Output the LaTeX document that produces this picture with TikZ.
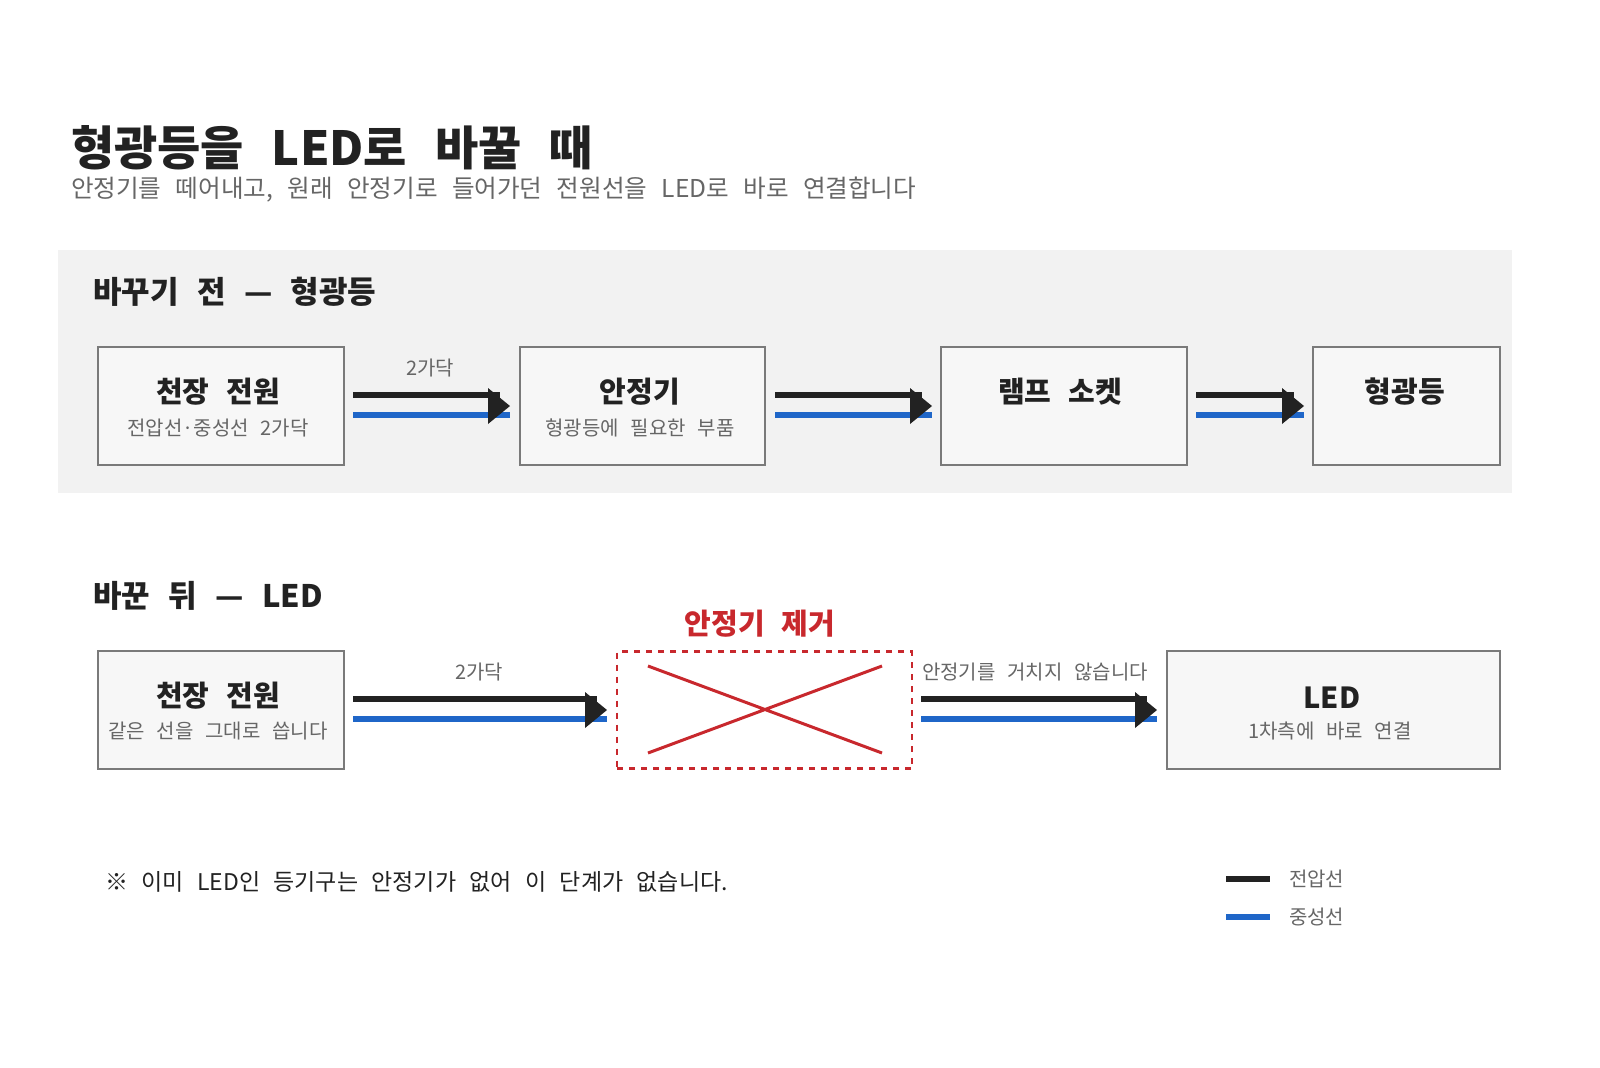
\documentclass[tikz,border=0pt]{standalone}
\usepackage{fontspec}
\setmainfont[WordSpace=2.6]{Noto Sans CJK KR}
\usetikzlibrary{calc}
\definecolor{panel}{HTML}{F2F2F2}
\definecolor{boxf}{HTML}{F7F7F7}
\definecolor{boxd}{HTML}{7A7A7A}
\definecolor{ink}{HTML}{222222}
\definecolor{sub}{HTML}{666666}
\definecolor{blu}{HTML}{1F66C8}
\definecolor{red}{HTML}{C8282D}
\tikzset{
 box/.style={draw=boxd,fill=boxf,line width=1pt,minimum height=59pt,inner sep=0pt},
 ttl/.style={font=\fontsize{14.5}{16}\selectfont\bfseries,text=ink},
 sbt/.style={font=\fontsize{10}{12}\selectfont,text=sub},
 wv/.style={line width=2.6pt,ink},
 wn/.style={line width=2.6pt,blu},
 lbl/.style={font=\fontsize{10}{12}\selectfont,text=sub},
}
\newcommand{\wirepair}[2]{%
 \draw[wv] ($(#1)+(0,-11)$) -- ($(#2)+(-10,-11)$);
 \draw[wn] ($(#1)+(0,9)$) -- ($(#2)+(0,9)$);
 \fill[ink] ($(#2)+(-22,-18)$) -- ($(#2)+(-22,18)$) -- (#2) -- cycle;}
\begin{document}
\begin{tikzpicture}[x=0.5pt,y=-0.5pt]
\useasboundingbox (0,0) rectangle (1600,1067);
\node[anchor=west,font=\fontsize{23.5}{26}\selectfont\bfseries,text=ink] (title) at (64,148) {형광등을 LED로 바꿀 때};
\node[anchor=west,font=\fontsize{12.3}{14}\selectfont,text=sub] (subt) at (64,190) {안정기를 떼어내고, 원래 안정기로 들어가던 전원선을 LED로 바로 연결합니다};
\fill[panel] (58,250) rectangle (1512,493);
\node[anchor=west,font=\fontsize{15.5}{18}\selectfont\bfseries,text=ink] (h1) at (86,292) {바꾸기 전 — 형광등};
% top row
\node[box,minimum width=123pt] (a1) at (221,406) {};
\node[ttl] at (218,392) {천장 전원};
\node[sbt] at (218,428) {전압선·중성선 2가닥};
\node[box,minimum width=122.5pt] (a2) at (642.5,406) {};
\node[ttl] at (640,392) {안정기};
\node[sbt] at (640,428) {형광등에 필요한 부품};
\node[box,minimum width=123pt] (a3) at (1064,406) {};
\node[ttl] at (1060,392) {램프 소켓};
\node[box,minimum width=93.5pt] (a4) at (1406.5,406) {};
\node[ttl] at (1405,392) {형광등};
\coordinate (s1) at (353,406); \coordinate (e1) at (510,406);
\coordinate (s2) at (775,406); \coordinate (e2) at (932,406);
\coordinate (s3) at (1196,406); \coordinate (e3) at (1304,406);
\wirepair{s1}{e1}\wirepair{s2}{e2}\wirepair{s3}{e3}
\node[lbl] at (430,368) {2가닥};
% bottom
\node[anchor=west,font=\fontsize{15.5}{18}\selectfont\bfseries,text=ink] (h2) at (86,596) {바꾼 뒤 — LED};
\node[box,minimum width=123pt] (b1) at (221,710) {};
\node[ttl] at (218,696) {천장 전원};
\node[sbt] at (218,731) {같은 선을 그대로 씁니다};
\node[draw=red,dashed,line width=1.2pt,minimum width=147.5pt,minimum height=58.5pt,inner sep=0pt] (rb) at (764.5,710) {};
\draw[red,line width=1.5pt] (648,666) -- (882,753) (648,753) -- (882,666);
\node[font=\fontsize{14.5}{16}\selectfont\bfseries,text=red] at (760,624) {안정기 제거};
\node[box,minimum width=166.5pt] (b3) at (1333.5,710) {};
\node[ttl] at (1332,698) {LED};
\node[sbt] at (1330,731) {1차측에 바로 연결};
\coordinate (t1) at (353,710); \coordinate (f1) at (607,710);
\coordinate (t2) at (921,710); \coordinate (f2) at (1157,710);
\wirepair{t1}{f1}\wirepair{t2}{f2}
\node[lbl] at (479,672) {2가닥};
\node[lbl] at (1035,672) {안정기를 거치지 않습니다};
\node[anchor=west,font=\fontsize{11.5}{14}\selectfont,text=ink] (note) at (98,882) {※ 이미 LED인 등기구는 안정기가 없어 이 단계가 없습니다.};
\coordinate (l1a) at (1226,879); \coordinate (l1b) at (1270,879);
\coordinate (l2a) at (1226,917); \coordinate (l2b) at (1270,917);
\draw[wv] (l1a) -- (l1b); \draw[wn] (l2a) -- (l2b);
\node[anchor=west,lbl] at (1282,879) {전압선};
\node[anchor=west,lbl] at (1282,917) {중성선};
\end{tikzpicture}
\end{document}
